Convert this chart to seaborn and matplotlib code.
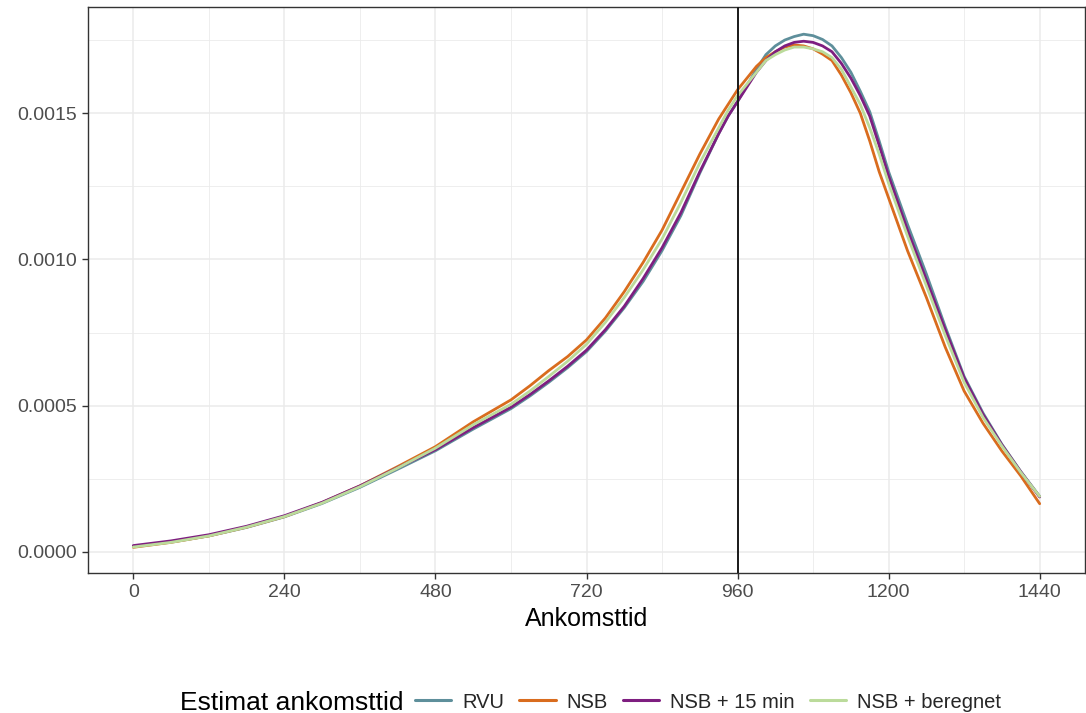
import numpy as np
import pandas as pd
import matplotlib
matplotlib.use("Agg")
import matplotlib.pyplot as plt
import seaborn as sns
from matplotlib.ticker import FixedLocator

# ---- data ----
minutes = [0, 60, 120, 180, 240, 300, 360, 420, 480, 540, 600, 630, 660, 690, 720, 750, 780,
           810, 840, 870, 900, 930, 945, 960, 975, 990, 1005, 1020, 1035, 1050,
           1065, 1080, 1095, 1110, 1125, 1140, 1155, 1170, 1185, 1200,
           1230, 1260, 1290, 1320, 1350, 1380, 1410, 1440]

rvu = [0.000018, 0.000034, 0.000055, 0.000084, 0.000120, 0.000166, 0.000221, 0.000283,
       0.000346, 0.000420, 0.000490, 0.000533, 0.000580, 0.000630, 0.000685, 0.000755, 0.000835,
       0.000925, 0.001030, 0.001150, 0.001295, 0.001430, 0.001490, 0.001540, 0.001595,
       0.001650, 0.001700, 0.001730, 0.001750, 0.001762,
       0.001770, 0.001765, 0.001752, 0.001730, 0.001690, 0.001640, 0.001575, 0.001505,
       0.001405, 0.001300,
       0.001120, 0.000950, 0.000770, 0.000600, 0.000475, 0.000368, 0.000275, 0.000190]

nsb = [0.000016, 0.000033, 0.000055, 0.000085, 0.000121, 0.000169, 0.000226, 0.000292,
       0.000360, 0.000445, 0.000520, 0.000568, 0.000620, 0.000668, 0.000725, 0.000800, 0.000890,
       0.000990, 0.001100, 0.001230, 0.001360, 0.001480, 0.001530, 0.001580, 0.001620,
       0.001660, 0.001690, 0.001710, 0.001726, 0.001733,
       0.001730, 0.001720, 0.001702, 0.001680, 0.001630, 0.001570, 0.001500, 0.001405,
       0.001300, 0.001210,
       0.001030, 0.000870, 0.000700, 0.000550, 0.000440, 0.000345, 0.000260, 0.000165]

nsb15 = [0.000022, 0.000038, 0.000059, 0.000088, 0.000124, 0.000170, 0.000226, 0.000288,
         0.000350, 0.000425, 0.000495, 0.000538, 0.000585, 0.000635, 0.000690, 0.000760, 0.000840,
         0.000935, 0.001040, 0.001160, 0.001300, 0.001430, 0.001490, 0.001540, 0.001590,
         0.001640, 0.001680, 0.001710, 0.001730, 0.001742,
         0.001746, 0.001742, 0.001730, 0.001710, 0.001670, 0.001620, 0.001560, 0.001490,
         0.001390, 0.001285,
         0.001100, 0.000930, 0.000760, 0.000595, 0.000470, 0.000366, 0.000274, 0.000188]

nsb_beregnet = [0.000017, 0.000033, 0.000055, 0.000085, 0.000121, 0.000167, 0.000223, 0.000287,
                0.000355, 0.000435, 0.000505, 0.000550, 0.000600, 0.000652, 0.000710, 0.000785,
                0.000870, 0.000965, 0.001070, 0.001195, 0.001330, 0.001450, 0.001510, 0.001560,
                0.001600, 0.001640, 0.001680, 0.001700, 0.001716, 0.001726,
                0.001726, 0.001720, 0.001710, 0.001690, 0.001650, 0.001590, 0.001530, 0.001450,
                0.001360, 0.001260,
                0.001080, 0.000910, 0.000740, 0.000580, 0.000460, 0.000362, 0.000272, 0.000190]

series_names = ["RVU", "NSB", "NSB + 15 min", "NSB + beregnet"]
series_colors = ["#5E8F9B", "#D96C1E", "#7E1E80", "#BBDB9B"]
x_ticks = [0, 240, 480, 720, 960, 1200, 1440]
x_minor = [120, 360, 600, 840, 1080, 1320]
y_ticks = [0.0, 0.0005, 0.0010, 0.0015]
y_minor = [0.00025, 0.00075, 0.00125, 0.00175]
y_tick_labels = ["0.0000", "0.0005", "0.0010", "0.0015"]
vline_at = 960
x_title = "Ankomsttid"
legend_title = "Estimat ankomsttid"

df = pd.concat([
    pd.DataFrame({"Ankomsttid": minutes, "density": vals, "Estimat": name})
    for name, vals in zip(series_names, [rvu, nsb, nsb15, nsb_beregnet])
], ignore_index=True)

# ---- plotting ----
sns.set_theme(style="white")
plt.rcParams["font.family"] = ["Liberation Sans", "DejaVu Sans"]

fig = plt.figure(figsize=(10.86, 7.13), dpi=100)
ax = fig.add_axes([88 / 1086, 1 - 573 / 713, (1085 - 88) / 1086, (573 - 7) / 713])

grid_col = "#EBEBEB"
ax.set_axisbelow(True)

sns.lineplot(data=df, x="Ankomsttid", y="density", hue="Estimat",
             hue_order=series_names, palette=dict(zip(series_names, series_colors)),
             linewidth=2.0, ax=ax, legend=True)
for ln in ax.get_lines():
    ln.set_solid_joinstyle("round")
    ln.set_solid_capstyle("round")

ax.axvline(vline_at, color="#1A1A1A", linewidth=1.4, zorder=5)

ax.set_xlim(-72, 1512)
ax.set_ylim(-0.0000718, 0.001863)
ax.xaxis.set_major_locator(FixedLocator(x_ticks))
ax.xaxis.set_minor_locator(FixedLocator(x_minor))
ax.yaxis.set_major_locator(FixedLocator(y_ticks))
ax.yaxis.set_minor_locator(FixedLocator(y_minor))
ax.set_yticklabels(y_tick_labels)

ax.grid(which="major", color=grid_col, linewidth=1.1)
ax.grid(which="minor", color=grid_col, linewidth=0.6)

for s in ax.spines.values():
    s.set_visible(True)
    s.set_color("#333333")
    s.set_linewidth(1.0)

ax.tick_params(which="major", direction="out", length=4, width=1.0, color="#333333",
               labelsize=14, labelcolor="#4D4D4D", pad=4, bottom=True, left=True)
ax.tick_params(which="minor", length=0)

ax.set_xlabel(x_title, fontsize=18, color="black", labelpad=4)
ax.set_ylabel("")

handles, labels = ax.get_legend_handles_labels()
ax.get_legend().remove()
for h in handles:
    h.set_linewidth(2.2)

fig.text(180 / 1086, 1 - 703 / 713, legend_title, fontsize=19, color="black",
         ha="left", va="center")
leg = fig.legend(handles, labels, loc="center left",
                 bbox_to_anchor=(415 / 1086, 1 - 702 / 713), ncol=4, frameon=False,
                 fontsize=14.5, handlelength=1.8, handletextpad=0.55,
                 columnspacing=0.75, borderpad=0, borderaxespad=0)

fig.savefig("out.png", dpi=100)
